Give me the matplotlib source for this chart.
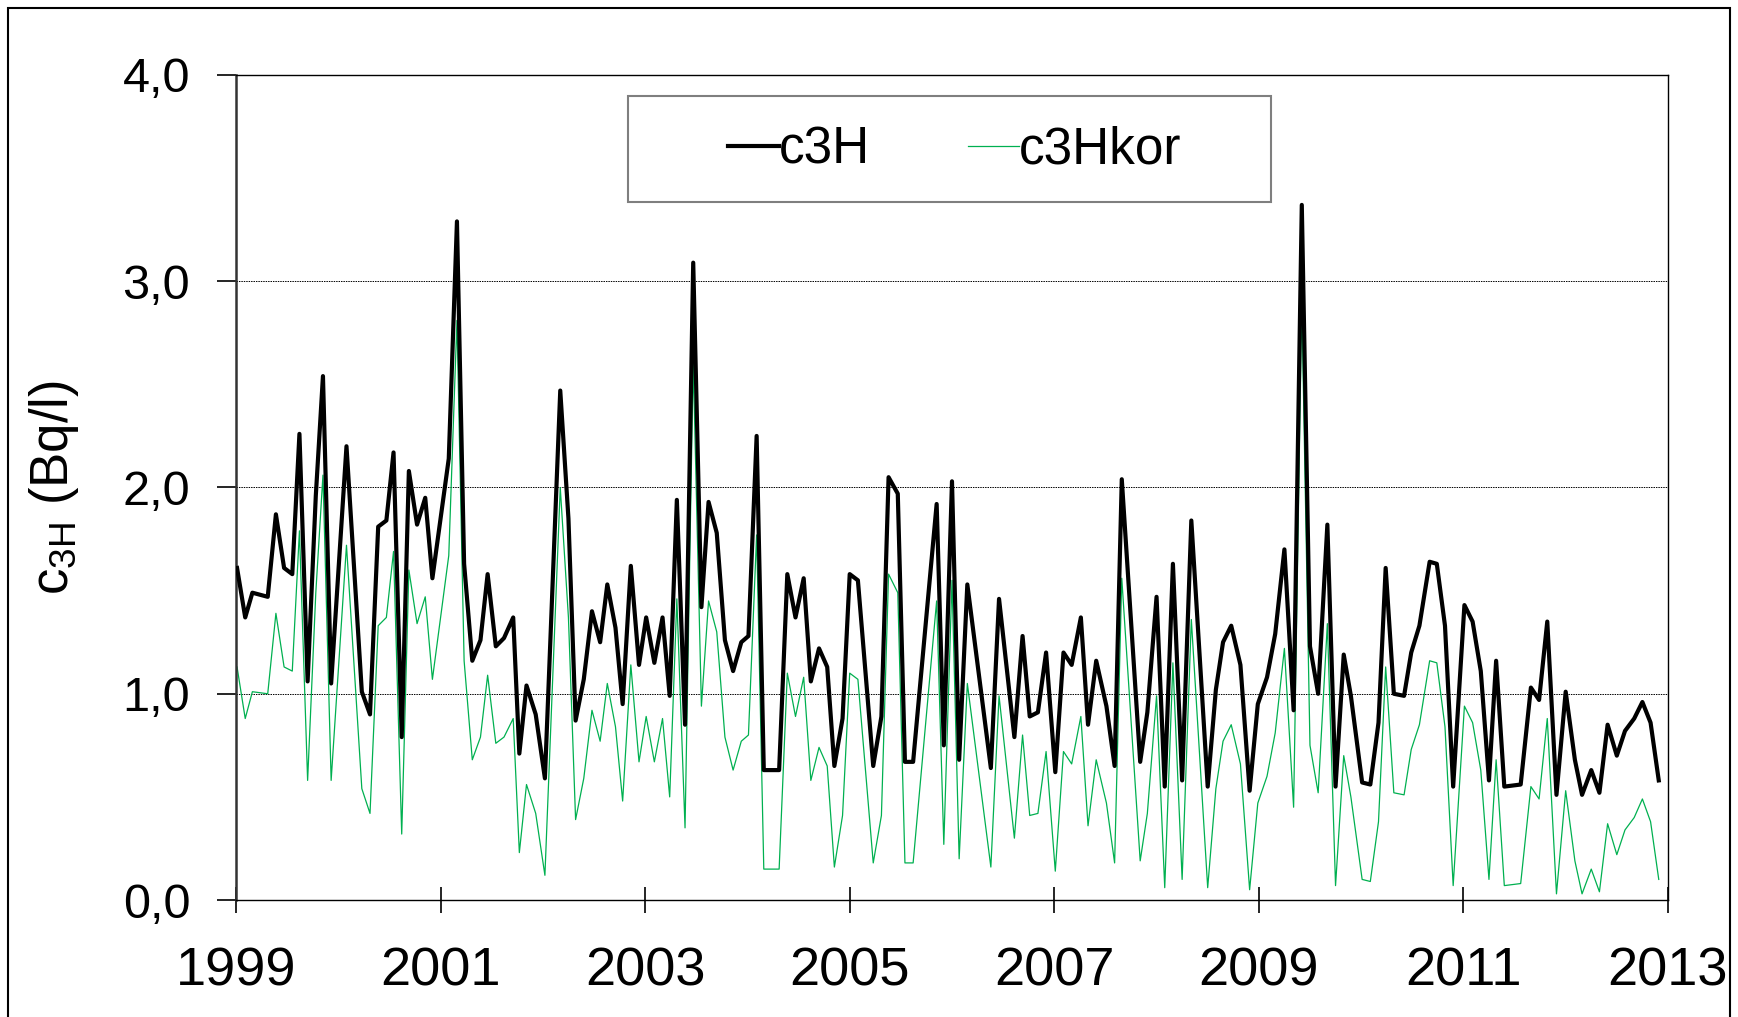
import matplotlib
matplotlib.use("Agg")
import matplotlib.pyplot as plt
from matplotlib.ticker import FuncFormatter, MultipleLocator
from matplotlib.patches import Rectangle

# sample dates (decimal years)
years = [1999.01, 1999.09, 1999.16, 1999.31, 1999.39, 1999.47, 1999.55, 1999.62, 1999.70, 1999.78,
         1999.85, 1999.93, 2000.08, 2000.23, 2000.31, 2000.39, 2000.47, 2000.54, 2000.62, 2000.69,
         2000.77, 2000.85, 2000.92, 2001.08, 2001.16, 2001.23, 2001.31, 2001.39, 2001.46, 2001.54,
         2001.62, 2001.71, 2001.77, 2001.84, 2001.93, 2002.02, 2002.17, 2002.25, 2002.32, 2002.40,
         2002.48, 2002.56, 2002.63, 2002.71, 2002.78, 2002.86, 2002.94, 2003.01, 2003.09, 2003.17,
         2003.24, 2003.31, 2003.39, 2003.47, 2003.55, 2003.62, 2003.70, 2003.78, 2003.86, 2003.94,
         2004.01, 2004.09, 2004.16, 2004.24, 2004.31, 2004.39, 2004.47, 2004.55, 2004.62, 2004.70,
         2004.78, 2004.85, 2004.93, 2005.00, 2005.08, 2005.23, 2005.31, 2005.38, 2005.47, 2005.54,
         2005.62, 2005.85, 2005.92, 2006.00, 2006.07, 2006.15, 2006.38, 2006.46, 2006.61, 2006.69,
         2006.76, 2006.84, 2006.92, 2007.01, 2007.09, 2007.17, 2007.26, 2007.33, 2007.41, 2007.51,
         2007.59, 2007.66, 2007.84, 2007.91, 2008.00, 2008.08, 2008.16, 2008.25, 2008.34, 2008.50,
         2008.58, 2008.65, 2008.73, 2008.82, 2008.91, 2008.99, 2009.08, 2009.16, 2009.25, 2009.34,
         2009.42, 2009.50, 2009.58, 2009.67, 2009.75, 2009.83, 2009.90, 2010.01, 2010.09, 2010.17,
         2010.24, 2010.32, 2010.42, 2010.49, 2010.57, 2010.67, 2010.74, 2010.82, 2010.90, 2011.01,
         2011.09, 2011.17, 2011.25, 2011.32, 2011.40, 2011.56, 2011.66, 2011.74, 2011.82, 2011.91,
         2012.00, 2012.09, 2012.16, 2012.25, 2012.33, 2012.41, 2012.50, 2012.58, 2012.67, 2012.75,
         2012.83, 2012.91]

c3H = [1.61, 1.37, 1.49, 1.47, 1.87, 1.61, 1.58, 2.26, 1.06, 1.96,
       2.54, 1.05, 2.20, 1.01, 0.90, 1.81, 1.84, 2.17, 0.79, 2.08,
       1.82, 1.95, 1.56, 2.14, 3.29, 1.63, 1.16, 1.26, 1.58, 1.23,
       1.27, 1.37, 0.71, 1.04, 0.90, 0.59, 2.47, 1.85, 0.87, 1.07,
       1.40, 1.25, 1.53, 1.32, 0.95, 1.62, 1.14, 1.37, 1.15, 1.37,
       0.99, 1.94, 0.85, 3.09, 1.42, 1.93, 1.78, 1.26, 1.11, 1.25,
       1.28, 2.25, 0.63, 0.63, 0.63, 1.58, 1.37, 1.56, 1.06, 1.22,
       1.13, 0.65, 0.88, 1.58, 1.55, 0.65, 0.89, 2.05, 1.97, 0.67,
       0.67, 1.92, 0.75, 2.03, 0.68, 1.53, 0.64, 1.46, 0.79, 1.28,
       0.89, 0.91, 1.20, 0.62, 1.20, 1.14, 1.37, 0.85, 1.16, 0.94,
       0.65, 2.04, 0.67, 0.91, 1.47, 0.55, 1.63, 0.58, 1.84, 0.55,
       1.02, 1.25, 1.33, 1.14, 0.53, 0.95, 1.08, 1.29, 1.70, 0.92,
       3.37, 1.23, 1.00, 1.82, 0.55, 1.19, 0.99, 0.57, 0.56, 0.86,
       1.61, 1.00, 0.99, 1.20, 1.33, 1.64, 1.63, 1.33, 0.55, 1.43,
       1.35, 1.11, 0.58, 1.16, 0.55, 0.56, 1.03, 0.97, 1.35, 0.51,
       1.01, 0.68, 0.51, 0.63, 0.52, 0.85, 0.70, 0.82, 0.88, 0.96,
       0.86, 0.58]

c3Hkor = [1.13, 0.88, 1.01, 1.00, 1.39, 1.13, 1.11, 1.79, 0.58, 1.49,
          2.06, 0.58, 1.72, 0.54, 0.42, 1.33, 1.37, 1.69, 0.32, 1.60,
          1.34, 1.47, 1.07, 1.67, 2.81, 1.16, 0.68, 0.79, 1.09, 0.76,
          0.79, 0.88, 0.23, 0.56, 0.42, 0.12, 2.00, 1.37, 0.39, 0.59,
          0.92, 0.77, 1.05, 0.84, 0.48, 1.14, 0.67, 0.89, 0.67, 0.88,
          0.50, 1.46, 0.35, 2.61, 0.94, 1.45, 1.30, 0.79, 0.63, 0.77,
          0.80, 1.77, 0.15, 0.15, 0.15, 1.10, 0.89, 1.08, 0.58, 0.74,
          0.65, 0.16, 0.41, 1.10, 1.07, 0.18, 0.41, 1.58, 1.49, 0.18,
          0.18, 1.45, 0.27, 1.55, 0.20, 1.05, 0.16, 0.99, 0.30, 0.80,
          0.41, 0.42, 0.72, 0.14, 0.72, 0.66, 0.89, 0.36, 0.68, 0.47,
          0.18, 1.56, 0.19, 0.42, 0.99, 0.06, 1.15, 0.10, 1.36, 0.06,
          0.54, 0.77, 0.85, 0.66, 0.05, 0.47, 0.60, 0.81, 1.22, 0.45,
          2.90, 0.75, 0.52, 1.34, 0.07, 0.70, 0.50, 0.10, 0.09, 0.38,
          1.13, 0.52, 0.51, 0.73, 0.85, 1.16, 1.15, 0.84, 0.07, 0.94,
          0.86, 0.63, 0.10, 0.68, 0.07, 0.08, 0.55, 0.49, 0.88, 0.03,
          0.53, 0.19, 0.03, 0.15, 0.04, 0.37, 0.22, 0.34, 0.40, 0.49,
          0.38, 0.10]

year_ticks = [1999, 2001, 2003, 2005, 2007, 2009, 2011, 2013]

plt.rcParams['font.family'] = ['Liberation Sans', 'DejaVu Sans']
plt.rcParams['mathtext.default'] = 'regular'

fig = plt.figure(figsize=(17.38, 10.17), dpi=100, facecolor='white')
ax = fig.add_axes([0.1358, 0.1150, 0.8239, 0.8113])

ax.plot(years, c3H, color='black', lw=3.0, label='c3H', zorder=3)
ax.plot(years, c3Hkor, color='#00B050', lw=0.9, label='c3Hkor', zorder=2)

ax.set_xlim(1999, 2013)
ax.set_ylim(0, 4)
ax.set_xticks(year_ticks)
ax.yaxis.set_major_locator(MultipleLocator(1.0))
ax.yaxis.set_major_formatter(FuncFormatter(lambda v, p: f'{v:.1f}'.replace('.', ',')))

ax.grid(axis='y', color='black', lw=0.7, linestyle=(0, (1.5, 1)))
ax.set_axisbelow(True)

ax.tick_params(axis='y', direction='out', length=14, width=1.2, labelsize=35, pad=19)
ax.tick_params(axis='x', direction='inout', length=19, width=1.2, labelsize=39, pad=24)
for s in ['top', 'right', 'bottom']:
    ax.spines[s].set_linewidth(1.0)
ax.spines['left'].set_linewidth(1.8)
ax.spines['left'].set_color('#333333')

ax.set_ylabel('c$_{3H}$ (Bq/l)', fontsize=38)
ax.yaxis.set_label_coords(-0.108, 0.5)

# legend frame drawn as a box, legend itself centred inside
ax.add_patch(Rectangle((0.274, 0.846), 0.449, 0.129, transform=ax.transAxes,
                       facecolor='white', edgecolor='#7f7f7f', lw=1.5, zorder=4))
leg = ax.legend(loc='center', bbox_to_anchor=(0.502, 0.909), ncol=2, frameon=False,
                fontsize=37, handlelength=1.0, handletextpad=0.0, columnspacing=1.9,
                borderpad=0.2)
leg.set_zorder(5)

# outer chart border
fig.patches.append(Rectangle((0.0046, -0.01), 0.9908, 1.0021, transform=fig.transFigure,
                             fill=False, edgecolor='black', lw=1.5))

fig.savefig('out.png', dpi=100)
